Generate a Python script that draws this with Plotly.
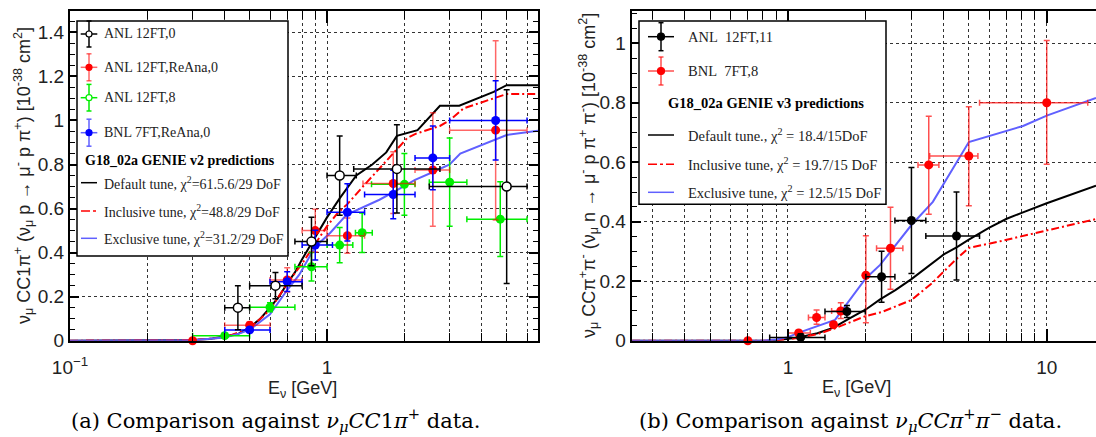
import plotly.graph_objects as go
import numpy as np

# ---------------- data : left panel (nu_mu CC1pi+) ----------------
anl0_E = [0.45, 0.63, 0.87, 1.12, 1.87, 5.0]
anl0_y = [0.15, 0.25, 0.45, 0.75, 0.78, 0.70]
anl0_lo = [0.40, 0.50, 0.75, 1.00, 1.27, 2.5]
anl0_hi = [0.50, 0.80, 1.00, 1.30, 2.75, 6.0]
anl0_err = [0.10, 0.06, 0.11, 0.18, 0.20, 0.44]

anlre_E = [0.3, 0.5, 0.7, 0.9, 1.2, 1.81, 2.58, 4.53]
anlre_y = [0.0, 0.07, 0.276, 0.50, 0.477, 0.714, 0.775, 0.956]
anlre_lo = [0.3, 0.4, 0.6, 0.8, 1.0, 1.38, 2.2, 3.0]
anlre_hi = [0.3, 0.6, 0.8, 1.0, 1.4, 2.2, 3.0, 6.0]
anlre_eup = [0.0, 0.015, 0.055, 0.097, 0.08, 0.144, 0.26, 0.406]
anlre_edn = [0.0, 0.015, 0.055, 0.097, 0.08, 0.136, 0.255, 0.408]

anl8_E = [0.4, 0.6, 0.87, 1.12, 1.37, 2.0, 3.0, 4.72]
anl8_y = [0.023, 0.152, 0.336, 0.434, 0.49, 0.71, 0.72, 0.552]
anl8_lo = [0.3, 0.5, 0.75, 1.0, 1.29, 1.49, 2.5, 3.5]
anl8_hi = [0.5, 0.75, 1.0, 1.26, 1.5, 2.2, 3.5, 6.0]
anl8_err = [0.01, 0.02, 0.065, 0.08, 0.09, 0.14, 0.2, 0.17]

bnlre_E = [0.5, 0.7, 0.9, 1.2, 1.81, 2.58, 4.53]
bnlre_y = [0.049, 0.268, 0.434, 0.583, 0.664, 0.83, 1.0]
bnlre_lo = [0.4, 0.6, 0.8, 1.0, 1.4, 2.2, 3.0]
bnlre_hi = [0.6, 0.8, 1.05, 1.4, 2.2, 3.0, 6.0]
bnlre_err = [0.012, 0.045, 0.068, 0.13, 0.11, 0.145, 0.18]

v2_def_E = [0.1, 0.2, 0.3, 0.35, 0.4, 0.45, 0.5, 0.55, 0.6, 0.65, 0.7, 0.75, 0.8, 0.9, 1.0, 1.12, 1.3, 1.5, 1.7, 1.87, 2.25, 2.75, 3.27, 4.45, 5.0, 6.62]
v2_def_y = [0, 0, 0.003, 0.008, 0.018, 0.03, 0.06, 0.10, 0.15, 0.20, 0.26, 0.31, 0.37, 0.47, 0.56, 0.646, 0.75, 0.80, 0.855, 0.93, 0.956, 1.067, 1.067, 1.13, 1.16, 1.16]
v2_inc_E = [0.1, 0.3, 0.4, 0.5, 0.6, 0.7, 0.8, 0.9, 1.0, 1.1, 1.2, 1.43, 1.75, 2.05, 2.22, 2.75, 3.0, 3.4, 5.0, 6.62]
v2_inc_y = [0, 0.003, 0.015, 0.055, 0.14, 0.26, 0.35, 0.44, 0.52, 0.58, 0.62, 0.72, 0.83, 0.92, 0.94, 0.975, 1.0, 1.055, 1.12, 1.12]
v2_exc_E = [0.1, 0.3, 0.4, 0.45, 0.5, 0.6, 0.7, 0.78, 0.9, 1.03, 1.19, 1.35, 1.6, 1.85, 2.2, 2.6, 3.0, 3.3, 4.45, 5.0, 6.62]
v2_exc_y = [0, 0.002, 0.015, 0.03, 0.05, 0.12, 0.23, 0.30, 0.427, 0.49, 0.571, 0.60, 0.64, 0.68, 0.73, 0.767, 0.80, 0.85, 0.911, 0.934, 0.953]

# ---------------- data : right panel (nu_mu CC pi+ pi-) ----------------
anl11_E = [1.12, 1.69, 2.30, 3.0, 4.48]
anl11_y = [0.011, 0.098, 0.215, 0.404, 0.352]
anl11_lo = [0.85, 1.39, 2.0, 2.59, 3.41]
anl11_hi = [1.39, 1.99, 2.59, 3.41, 5.5]
anl11_err = [0.012, 0.02, 0.086, 0.178, 0.148]

bnl8_E = [0.7, 1.10, 1.29, 1.50, 1.60, 2.0, 2.49, 3.5, 5.0, 10.0]
bnl8_y = [0.0, 0.026, 0.078, 0.054, 0.10, 0.22, 0.311, 0.591, 0.621, 0.80]
bnl8_lo = [0.7, 1.0, 1.2, 1.5, 1.475, 2.0, 2.2, 3.18, 3.53, 5.5]
bnl8_hi = [0.7, 1.22, 1.39, 1.5, 1.71, 2.0, 2.78, 3.83, 5.42, 14.4]
bnl8_eup = [0.0, 0.008, 0.025, 0.01, 0.028, 0.133, 0.138, 0.164, 0.166, 0.209]
bnl8_edn = [0.0, 0.008, 0.023, 0.01, 0.025, 0.16, 0.138, 0.166, 0.167, 0.207]

v3_def_E = [0.25, 0.85, 0.95, 1.1, 1.3, 1.5, 1.73, 2.0, 2.27, 2.6, 3.0, 3.5, 4.0, 4.5, 5.0, 6.0, 7.0, 8.0, 10.0, 15.5]
v3_def_y = [0, 0, 0.004, 0.011, 0.025, 0.044, 0.075, 0.105, 0.139, 0.17, 0.207, 0.25, 0.29, 0.315, 0.34, 0.38, 0.41, 0.43, 0.462, 0.521]
v3_inc_E = [0.25, 0.85, 1.0, 1.1, 1.3, 1.5, 2.0, 2.3, 3.0, 3.6, 4.48, 5.0, 6.5, 10.0, 15.5]
v3_inc_y = [0, 0, 0.005, 0.01, 0.022, 0.04, 0.083, 0.096, 0.137, 0.193, 0.275, 0.312, 0.333, 0.371, 0.409]
v3_exc_E = [0.25, 0.8, 0.9, 1.0, 1.11, 1.3, 1.52, 2.0, 2.27, 3.0, 3.63, 5.0, 8.1, 10.0, 15.5]
v3_exc_y = [0, 0, 0.004, 0.012, 0.028, 0.05, 0.07, 0.21, 0.255, 0.389, 0.467, 0.668, 0.722, 0.757, 0.816]

W, H = 1096, 437
def px(x): return x / W
def py(y): return 1 - y / H

SANS = "Liberation Sans, Arial, sans-serif"
SERIF = "Liberation Serif, Times New Roman, serif"
CAPF = "DejaVu Serif, serif"

fig = go.Figure()

def curve(E, y, color, dash, xa, ya, name, width=2):
    fig.add_trace(go.Scatter(x=E, y=y, mode="lines", name=name, showlegend=False,
                             line=dict(color=color, dash=dash, width=width), xaxis=xa, yaxis=ya))

def points(E, y, lo, hi, eup, edn, color, barcolor, xa, ya, name, open_=False, size=9):
    xp = [h - e for h, e in zip(hi, E)]
    xm = [e - l for l, e in zip(lo, E)]
    marker = dict(size=size, color="white" if open_ else color,
                  line=dict(color=color, width=1.5 if open_ else 0))
    fig.add_trace(go.Scatter(
        x=E, y=y, mode="markers", name=name, showlegend=False, marker=marker,
        error_x=dict(type="data", symmetric=False, array=xp, arrayminus=xm, color=barcolor, thickness=1.5, width=3),
        error_y=dict(type="data", symmetric=False, array=eup, arrayminus=edn, color=barcolor, thickness=1.5, width=3),
        xaxis=xa, yaxis=ya, cliponaxis=False))

DASHDOT = "8px,3px,2px,3px"
# left panel
curve(v2_def_E, v2_def_y, "black", "solid", "x", "y", "Default tune")
curve(v2_inc_E, v2_inc_y, "#ff0000", DASHDOT, "x", "y", "Inclusive tune")
curve(v2_exc_E, v2_exc_y, "#6060ff", "solid", "x", "y", "Exclusive tune")
points(anl8_E, anl8_y, anl8_lo, anl8_hi, anl8_err, anl8_err, "#00ee00", "#00ee00", "x", "y", "ANL 12FT,8")
points(anlre_E, anlre_y, anlre_lo, anlre_hi, anlre_eup, anlre_edn, "#ff0000", "rgba(255,0,0,0.6)", "x", "y", "ANL 12FT,ReAna,0")
points(bnlre_E, bnlre_y, bnlre_lo, bnlre_hi, bnlre_err, bnlre_err, "#0000ff", "#0000ff", "x", "y", "BNL 7FT,ReAna,0")
points(anl0_E, anl0_y, anl0_lo, anl0_hi, anl0_err, anl0_err, "black", "black", "x", "y", "ANL 12FT,0", open_=True)

# right panel
curve(v3_def_E, v3_def_y, "black", "solid", "x2", "y2", "Default tune")
curve(v3_inc_E, v3_inc_y, "#ff0000", DASHDOT, "x2", "y2", "Inclusive tune")
curve(v3_exc_E, v3_exc_y, "#6060ff", "solid", "x2", "y2", "Exclusive tune")
points(bnl8_E, bnl8_y, bnl8_lo, bnl8_hi, bnl8_eup, bnl8_edn, "#ff0000", "rgba(255,20,20,0.75)", "x2", "y2", "BNL 7FT,8")
points(anl11_E, anl11_y, anl11_lo, anl11_hi, anl11_err, anl11_err, "black", "black", "x2", "y2", "ANL 12FT,11")

GRID = dict(showgrid=True, gridcolor="#333", griddash="dot", gridwidth=1)

def logaxis(decades, others, labels, rng, domain, mirror, anchor):
    d = dict(type="log", range=rng, domain=domain, tickmode="array", tickvals=decades, ticktext=labels,
             ticks="inside", ticklen=12, tickwidth=1.5, tickcolor="black", anchor=anchor, automargin=False,
             showline=True, linecolor="black", linewidth=2, mirror=mirror,
             tickfont=dict(family=SANS, size=19, color="#222"), ticklabelstandoff=8,
             minor=dict(tickmode="array", tickvals=others, ticks="inside", ticklen=8, tickwidth=1.2,
                        tickcolor="black", showgrid=True, gridcolor="#333", griddash="dot", gridwidth=1),
             zeroline=False, fixedrange=True)
    d.update(GRID)
    return d

def linaxis(rng, domain, mirror, anchor):
    d = dict(range=rng, domain=domain, dtick=0.2, tick0=0, ticks="inside", ticklen=9, tickwidth=1.5,
             tickcolor="black", showline=True, linecolor="black", linewidth=2, mirror=mirror,
             tickfont=dict(family=SANS, size=19, color="#222"), anchor=anchor, automargin=False,
             minor=dict(dtick=0.05, ticks="inside", ticklen=5, tickwidth=1.2, tickcolor="black", showgrid=False),
             zeroline=False, fixedrange=True)
    d.update(GRID)
    return d

ydom = [py(340.7), py(11)]
left_others = [0.2, 0.3, 0.4, 0.5, 0.6, 0.7, 0.8, 0.9, 2, 3, 4, 5, 6]
right_others = [0.3, 0.4, 0.5, 0.6, 0.7, 0.8, 0.9, 2, 3, 4, 5, 6, 7, 8, 9]

fig.update_layout(
    width=W, height=H, margin=dict(l=0, r=0, t=0, b=0, pad=0, autoexpand=False),
    paper_bgcolor="white", plot_bgcolor="white", showlegend=False,
    xaxis=logaxis([0.1, 1], left_others, ["10<sup>−1</sup>", "1"], [-1, np.log10(6.62)],
                  [px(70), px(538)], "ticks", "y"),
    yaxis=linaxis([0, 1.497], ydom, "ticks", "x"),
    xaxis2=logaxis([1, 10], right_others, ["1", "10"], [np.log10(0.249), np.log10(15.5)],
                   [px(631.7), 1.0], "ticks", "y2"),
    yaxis2=linaxis([0, 1.1086], ydom, False, "x2"),
)

shapes = []
annotations = []

def txt(x, y, s, size=14, family=SERIF, xanchor="left", angle=0, color="#222"):
    annotations.append(dict(x=px(x), y=py(y), xref="paper", yref="paper", text=s, showarrow=False,
                            xanchor=xanchor, yanchor="middle", textangle=angle,
                            font=dict(family=family, size=size, color=color)))

def line(x0, y0, x1, y1, color, width=1.5, dash="solid"):
    shapes.append(dict(type="line", xref="paper", yref="paper", x0=px(x0), y0=py(y0), x1=px(x1), y1=py(y1),
                       line=dict(color=color, width=width, dash=dash), layer="above"))

def circ(cx, cy, r, color, filled):
    shapes.append(dict(type="circle", xref="paper", yref="paper", xsizemode="pixel", ysizemode="pixel",
                       xanchor=px(cx), yanchor=py(cy), x0=-r, x1=r, y0=-r, y1=r,
                       fillcolor=color if filled else "white", line=dict(color=color, width=1.2), layer="above"))

def errsym(cx, cy, hh, hw, color, barcolor, filled, r):
    line(cx, cy - hh, cx, cy + hh, barcolor)
    line(cx - 2.5, cy - hh, cx + 2.5, cy - hh, barcolor)
    line(cx - 2.5, cy + hh, cx + 2.5, cy + hh, barcolor)
    line(cx - hw, cy, cx + hw, cy, barcolor)
    circ(cx, cy, r, color, filled)

# left legend
shapes.append(dict(type="rect", xref="paper", yref="paper", x0=px(77), x1=px(288), y0=py(256), y1=py(21),
                   fillcolor="white", line=dict(color="black", width=1.5), layer="above"))
errsym(89, 34, 13, 8.3, "black", "black", False, 3)
errsym(89, 67.3, 13.5, 8.3, "#ff0000", "rgba(255,0,0,0.6)", True, 3)
errsym(89, 97.7, 13.3, 8.3, "#00ee00", "#00ee00", False, 3)
errsym(89, 132.7, 13.5, 8.3, "#0000ff", "#6060ff", True, 3)
line(81, 182.7, 97, 182.7, "black")
line(81, 211, 97, 211, "#ff0000", dash="dashdot")
line(81, 238.3, 97, 238.3, "#6060ff")
txt(102, 34, "ANL 12FT,0")
txt(102, 67.3, "ANL 12FT,ReAna,0")
txt(102, 97.7, "ANL 12FT,8")
txt(102, 132.7, "BNL 7FT,ReAna,0")
txt(179.5, 160.7, "<b>G18_02a GENIE v2 predictions</b>", xanchor="center", color="black")
txt(102, 182.7, "Default tune, χ<sup>2</sup>=61.5.6/29 DoF")
txt(102, 211, "Inclusive tune, χ<sup>2</sup>=48.8/29 DoF")
txt(102, 238.3, "Exclusive tune, χ<sup>2</sup>=31.2/29 DoF")

# right legend
shapes.append(dict(type="rect", xref="paper", yref="paper", x0=px(639), x1=px(886), y0=py(204.3), y1=py(21),
                   fillcolor="white", line=dict(color="black", width=1.5), layer="above"))
errsym(661, 36.7, 14, 13, "black", "black", True, 3.5)
errsym(661, 71, 14, 13, "#ff0000", "rgba(255,20,20,0.75)", True, 3.5)
line(648, 135, 674, 135, "black")
line(648, 164.3, 674, 164.3, "#ff0000", dash="dashdot")
line(648, 192.3, 674, 192.3, "#6060ff")
txt(686, 36.7, "ANL\u00a0\u00a012FT,11", size=14.5)
txt(686, 71, "BNL\u00a0\u00a07FT,8", size=14.5)
txt(766, 103.3, "<b>G18_02a GENIE v3 predictions</b>", size=14.5, xanchor="center", color="black")
txt(686, 135, "Default tune., χ<sup>2</sup> = 18.4/15DoF", size=14.5)
txt(686, 164.3, "Inclusive tune, χ<sup>2</sup> = 19.7/15 DoF", size=14.5)
txt(686, 192.3, "Exclusive tune, χ<sup>2</sup> = 12.5/15 DoF", size=14.5)

# axis titles
txt(23, 176, "ν<sub>μ</sub> CC1π<sup>+</sup> (ν<sub>μ</sub> p → μ<sup>-</sup> p π<sup>+</sup>) [10<sup>-38</sup> cm<sup>2</sup>]",
    size=18, family=SANS, xanchor="center", angle=-90)
txt(588, 176, "ν<sub>μ</sub> CCπ<sup>+</sup>π<sup>-</sup> (ν<sub>μ</sub> n → μ<sup>-</sup> p π<sup>+</sup> π<sup>-</sup>) [10<sup>-38</sup> cm<sup>2</sup>]",
    size=18, family=SANS, xanchor="center", angle=-90)
txt(302, 389, "E<sub>ν</sub> [GeV]", size=18, family=SANS, xanchor="center")
txt(856, 388, "E<sub>ν</sub> [GeV]", size=18, family=SANS, xanchor="center")

# captions
txt(275, 420, "(a) Comparison against <i>ν</i><sub><i>μ</i></sub><i>CC</i>1<i>π</i><sup>+</sup> data.",
    size=21, family=CAPF, xanchor="center", color="black")
txt(850, 420, "(b) Comparison against <i>ν</i><sub><i>μ</i></sub><i>CCπ</i><sup>+</sup><i>π</i><sup>−</sup> data.",
    size=21, family=CAPF, xanchor="center", color="black")

fig.update_layout(shapes=shapes, annotations=annotations)
fig.write_html("out.html", config={"displayModeBar": False},
               post_script="document.body.style.margin='0px';document.body.style.padding='0px';")
